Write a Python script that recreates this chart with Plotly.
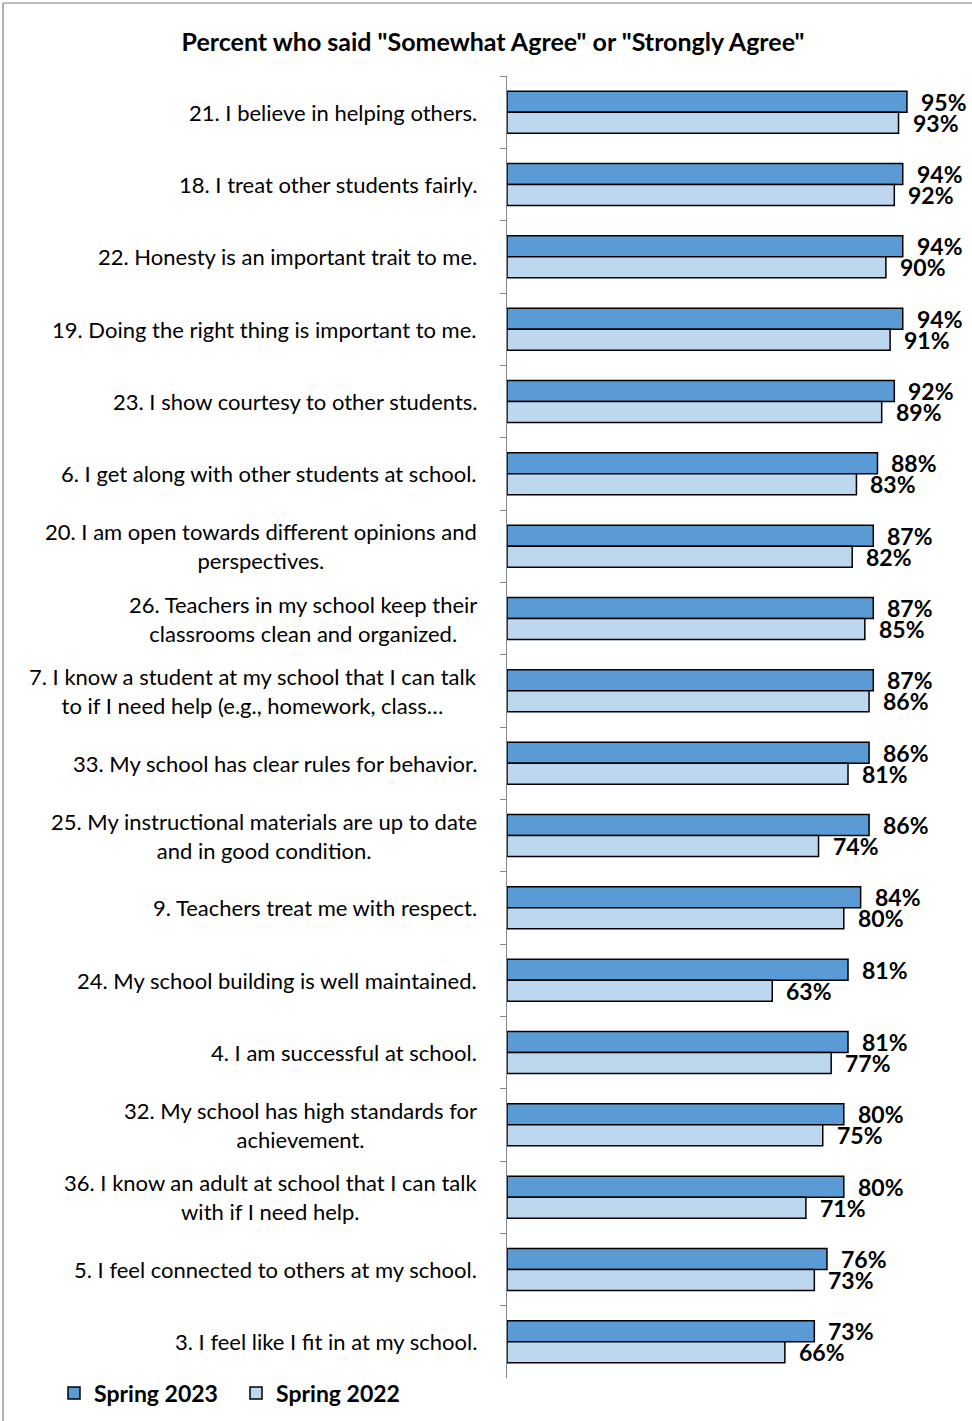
import plotly.graph_objects as go

categories = [
    "21. I believe in helping others.",
    "18. I treat other students fairly.",
    "22. Honesty is an important trait to me.",
    "19. Doing the right thing is important to me.",
    "23. I show courtesy to other students.",
    "6. I get along with other students at school.",
    "20. I am open towards different opinions and<br>perspectives.",
    "26. Teachers in my school keep their<br>classrooms clean and organized.",
    "7. I know a student at my school that I can talk<br>to if I need help (e.g., homework, class…",
    "33. My school has clear rules for behavior.",
    "25. My instructional materials are up to date<br>and in good condition.",
    "9. Teachers treat me with respect.",
    "24. My school building is well maintained.",
    "4. I am successful at school.",
    "32. My school has high standards for<br>achievement.",
    "36. I know an adult at school that I can talk<br>with if I need help.",
    "5. I feel connected to others at my school.",
    "3. I feel like I fit in at my school.",
]
keys = [f"q{i}" for i in range(len(categories))]
spring_2023 = [95, 94, 94, 94, 92, 88, 87, 87, 87, 86, 86, 84, 81, 81, 80, 80, 76, 73]
spring_2022 = [93, 92, 90, 91, 89, 83, 82, 85, 86, 81, 74, 80, 63, 77, 75, 71, 73, 66]
series_names = ["Spring 2023", "Spring 2022"]
colors = ["#5B9BD5", "#BDD7EE"]

W, H = 972, 1421
L, R = 507, 928
T, B = 76, 1378
FONT = "Lato, 'Open Sans', sans-serif"

fig = go.Figure()
for i, (name, vals, col) in enumerate(zip(series_names, [spring_2023, spring_2022], colors)):
    fig.add_trace(go.Bar(
        y=keys, x=vals, name=name, orientation="h",
        legend="legend" if i == 0 else "legend2", showlegend=True,
        marker=dict(color=col, line=dict(color="#000000", width=1.5)),
    ))

annotations = []
for k, cat in zip(keys, categories):
    annotations.append(dict(
        x=0, xref="paper", y=k, yref="y", text=cat, showarrow=False,
        xanchor="right", yanchor="middle", align="center", xshift=-28,
        font=dict(family=FONT, size=22, color="#000000"),
    ))
for vals, ys in [(spring_2023, 10.5), (spring_2022, -10.5)]:
    for k, v in zip(keys, vals):
        annotations.append(dict(
            x=v, xref="x", y=k, yref="y", text=f"{v}%", showarrow=False,
            xanchor="left", yanchor="middle", xshift=12, yshift=ys,
            font=dict(family=FONT, size=23, color="#000000", weight="bold"),
        ))

legend_font = dict(family=FONT, size=23, color="#000000", weight="bold")
fig.update_layout(
    width=W, height=H, showlegend=True,
    margin=dict(l=L, r=W - R, t=T, b=H - B, pad=0),
    paper_bgcolor="white", plot_bgcolor="white",
    barmode="group", bargap=0.42, bargroupgap=0,
    title=dict(
        text='Percent who said "Somewhat Agree" or "Strongly Agree"',
        x=493 / W, xref="container", xanchor="center",
        y=1 - 42 / H, yref="container", yanchor="middle",
        font=dict(family=FONT, size=25, color="#000000", weight="bold"),
    ),
    xaxis=dict(range=[0, 100], visible=False, fixedrange=True),
    yaxis=dict(
        autorange="reversed", showticklabels=False, showgrid=False,
        showline=True, linecolor="#868686", linewidth=1,
        ticks="outside", tickson="boundaries", ticklen=6, tickcolor="#868686",
        zeroline=False, fixedrange=True,
    ),
    legend=dict(
        xref="container", yref="container",
        x=54 / W, y=1 - 1393 / H, xanchor="left", yanchor="middle",
        font=legend_font, itemwidth=30, bgcolor="rgba(0,0,0,0)",
    ),
    legend2=dict(
        xref="container", yref="container",
        x=236 / W, y=1 - 1393 / H, xanchor="left", yanchor="middle",
        font=legend_font, itemwidth=30, bgcolor="rgba(0,0,0,0)",
    ),
    annotations=annotations,
    shapes=[
        dict(type="line", xref="paper", yref="paper",
             x0=(3 - L) / (R - L), x1=(W + 5 - L) / (R - L),
             y0=(B - 3) / (B - T), y1=(B - 3) / (B - T),
             line=dict(color="#7f7f7f", width=1.2)),
        dict(type="line", xref="paper", yref="paper",
             x0=(3 - L) / (R - L), x1=(3 - L) / (R - L),
             y0=(B - 3) / (B - T), y1=(B - H - 5) / (B - T),
             line=dict(color="#7f7f7f", width=1.2)),
    ],
)

fig.write_html(
    "out.html",
    config={"displayModeBar": False},
    post_script="document.body.style.margin='0';",
)
